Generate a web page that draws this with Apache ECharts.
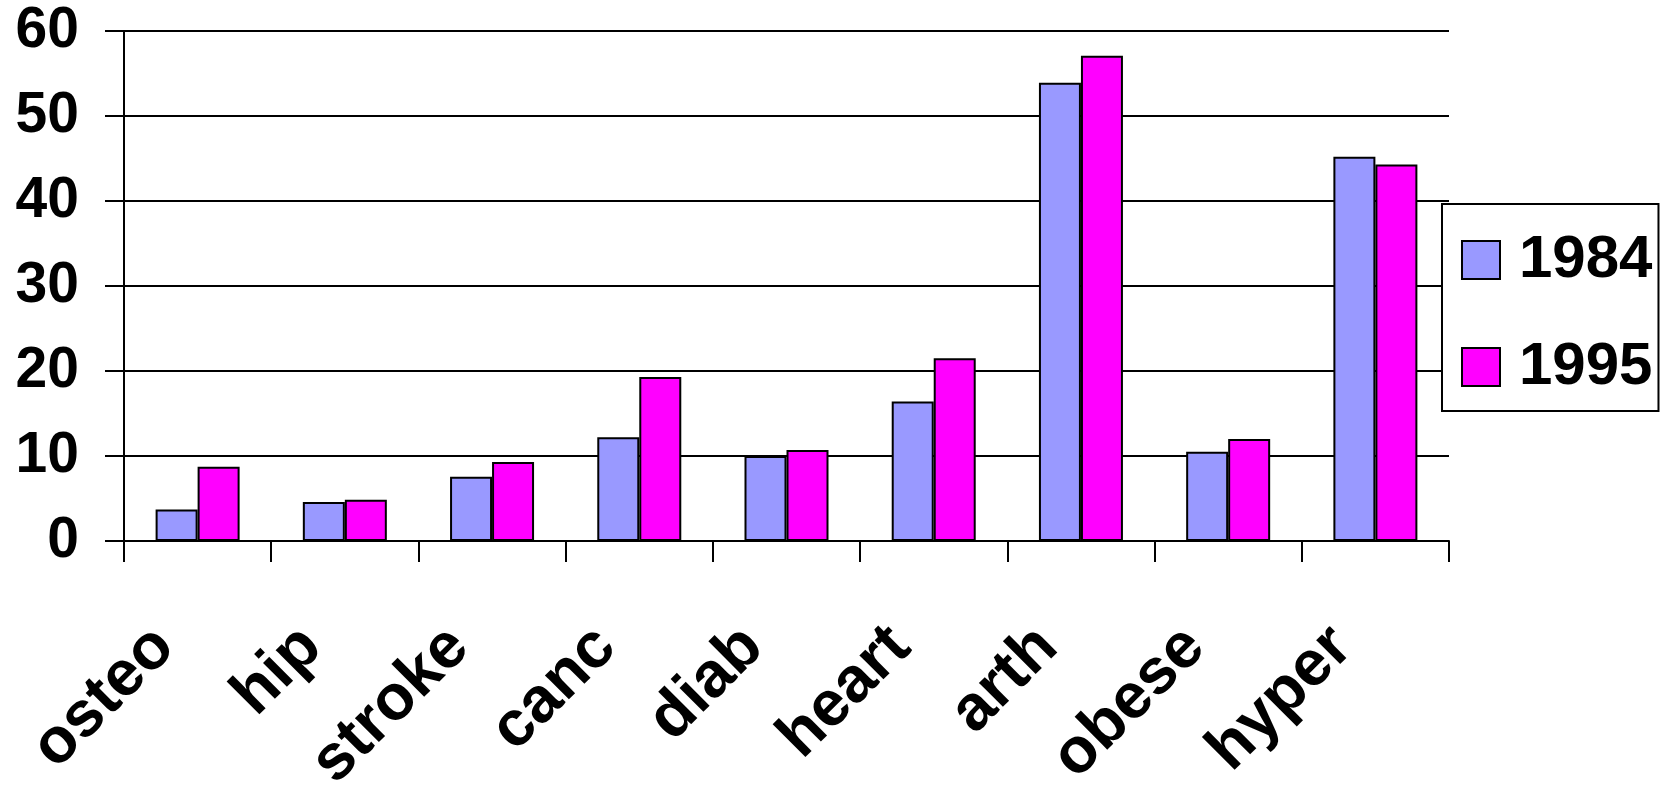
<!DOCTYPE html>
<html>
<head>
<meta charset="utf-8">
<script src="https://cdn.jsdelivr.net/npm/echarts@6/dist/echarts.min.js"></script>
<style>
html,body{margin:0;padding:0;background:#fff;}
#chart{width:1661px;height:787px;}
</style>
</head>
<body>
<div id="chart"></div>
<script>
var categories = ['osteo','hip','stroke','canc','diab','heart','arth','obese','hyper'];
var values1984 = [3.7, 4.6, 7.55, 12.2, 10.0, 16.4, 53.9, 10.5, 45.2];
var values1995 = [8.75, 4.85, 9.3, 19.3, 10.7, 21.5, 57.1, 12.0, 44.3];
var yTicks = [0, 10, 20, 30, 40, 50, 60];

var FONT = '"Liberation Sans", Arial, sans-serif';
var chart = echarts.init(document.getElementById('chart'), null, {renderer:'canvas'});
chart.setOption({
  animation: false,
  backgroundColor: '#fff',
  grid: {left: 124, right: 212, top: 31, bottom: 246, containLabel: false, outerBoundsMode: 'none'},
  legend: {
    data: ['1984','1995'],
    orient: 'vertical',
    left: 1442, top: 204,
    backgroundColor: '#fff',
    borderColor: '#000',
    borderWidth: 2,
    borderRadius: 0,
    padding: [26, 6, 14, 19],
    itemWidth: 38, itemHeight: 38,
    itemGap: 47,
    icon: 'rect',
    itemStyle: {borderColor: '#000', borderWidth: 2},
    textStyle: {fontSize: 60, fontWeight: 'bold', color: '#000', fontFamily: FONT, lineHeight: 38, padding: [0,0,0,14]}
  },
  xAxis: {
    type: 'category',
    data: categories,
    axisLine: {lineStyle: {color: '#000', width: 2}},
    axisTick: {show: true, length: 21, lineStyle: {color: '#000', width: 2}},
    axisLabel: {interval: 0, rotate: 45, margin: 63, padding: [0, 47, 0, 0], fontSize: 64, fontWeight: 'bold', color: '#000', fontFamily: FONT},
    splitLine: {show: false}
  },
  yAxis: {
    type: 'value',
    min: yTicks[0], max: yTicks[yTicks.length-1], interval: 10,
    axisLine: {show: true, lineStyle: {color: '#000', width: 2}},
    axisTick: {show: true, length: 19, lineStyle: {color: '#000', width: 2}},
    axisLabel: {margin: 45, fontSize: 57, fontWeight: 'bold', color: '#000', fontFamily: FONT},
    splitLine: {show: true, lineStyle: {color: '#000', width: 2}}
  },
  series: [
    {name: '1984', type: 'bar', data: values1984, barWidth: 42, barGap: '0%',
     itemStyle: {color: '#9999FF', borderColor: '#000', borderWidth: 2}},
    {name: '1995', type: 'bar', data: values1995, barWidth: 42, barGap: '0%',
     itemStyle: {color: '#FF00FF', borderColor: '#000', borderWidth: 2}}
  ]
});
</script>
</body>
</html>
